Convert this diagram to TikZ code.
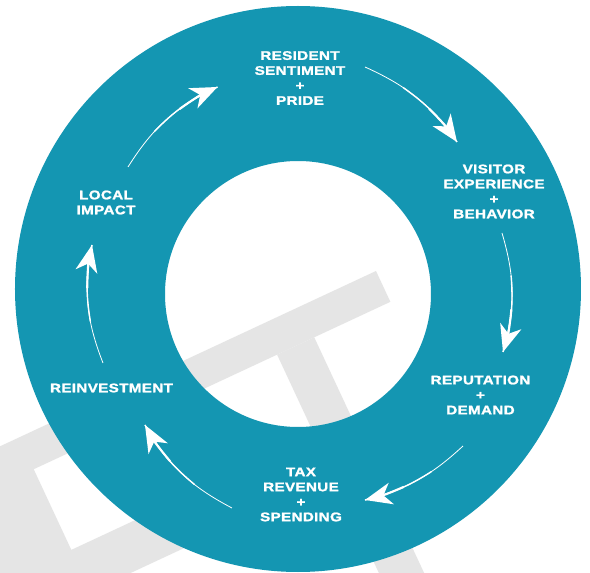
\documentclass[tikz,border=0pt]{standalone}
\usepackage{fontspec}
\newfontfamily\labelfont{Liberation Sans}[FakeStretch=1.22,LetterSpace=2.5,FakeBold=1.6]
\usetikzlibrary{arrows.meta}
\definecolor{ringteal}{RGB}{20,150,178}
\definecolor{markgray}{RGB}{229,229,229}

\begin{document}
\begin{tikzpicture}[x=1pt,y=1pt,
  lbl/.style={text=white,align=center,font=\labelfont\bfseries\fontsize{12.5}{15}\selectfont},
  flow/.style={white,line width=2.1pt,-{Stealth[length=27pt,width=22pt,inset=8pt]}}]
  \clip (-298,-284) rectangle (292,289);
  \fill[white] (-298,-284) rectangle (292,289);

  % grey letters lying behind the ring
  \begin{scope}[shift={(78,18)},rotate=25,markgray]
    \fill (-230,0) rectangle (0,-34);
    \fill (-125,-34) rectangle (-84,-300);
    \fill[even odd rule] (-520,0) rectangle (-250,-170) (-394,-35) rectangle (-290,-124);
  \end{scope}

  \fill[ringteal,even odd rule] (0,0) circle[radius=283] (0,-5) circle[radius=133];

  \node[lbl] (pride) at (2,211) {RESIDENT\\SENTIMENT\\+\\PRIDE};
  \node[lbl] (visitor) at (196,97.5) {VISITOR\\EXPERIENCE\\+\\BEHAVIOR};
  \node[lbl] (demand) at (182.5,-106) {REPUTATION\\+\\DEMAND};
  \node[lbl] (tax) at (3,-205.5) {TAX\\REVENUE\\+\\SPENDING};
  \node[lbl] (reinvest) at (-186.5,-99) {REINVESTMENT};
  \node[lbl] (impact) at (-192,86.5) {LOCAL\\IMPACT};

  \coordinate (a1) at (-170,122);  \coordinate (b1) at (-80.5,202);
  \coordinate (a2) at (67,222);    \coordinate (b2) at (159,147);
  \coordinate (a3) at (204,56);    \coordinate (b3) at (205,-63);
  \coordinate (a4) at (165,-157);  \coordinate (b4) at (67,-211);
  \coordinate (a5) at (-66,-219);  \coordinate (b5) at (-153,-136);
  \coordinate (a6) at (-195,-74);  \coordinate (b6) at (-206,44);

  % each arrow gets thicker towards its head
  \foreach \i/\bend in {1/16,2/15,3/16,4/14,5/16,6/16} {
    \draw[white,line width=0.8pt] (a\i) to[bend left=\bend]
      coordinate[pos=0.35] (m\i) coordinate[pos=0.65] (n\i) (b\i);
    \draw[white,line width=1.4pt] (m\i) to[bend left=0.65*\bend] (b\i);
    \draw[flow] (n\i) to[bend left=0.35*\bend] (b\i);
  }
\end{tikzpicture}
\end{document}
